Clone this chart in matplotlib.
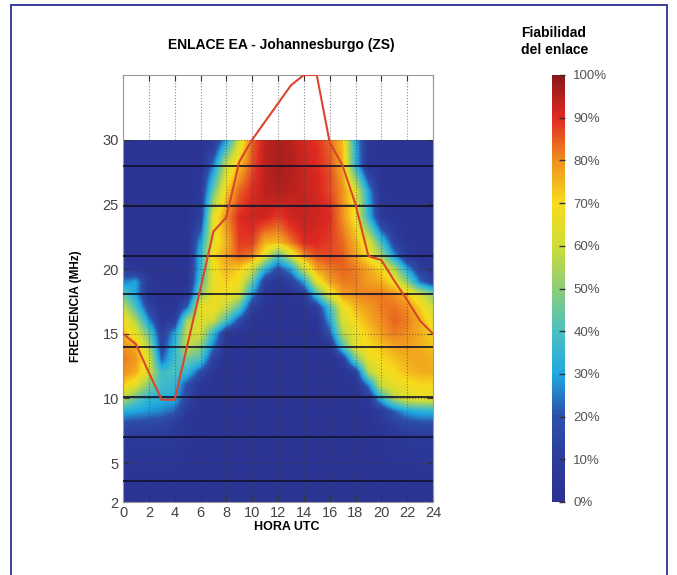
import numpy as np
import matplotlib
matplotlib.use("Agg")
import matplotlib.pyplot as plt
from matplotlib.colors import LinearSegmentedColormap
from matplotlib.patches import Rectangle

plt.rcParams['font.family'] = ['Liberation Sans', 'DejaVu Sans']

# Hour of day (UTC) and frequency rows (MHz) of the reliability table
hours = list(range(25))
freqs_mhz = list(range(2, 31))

# Link reliability (%) per frequency, one value per hour 0..24
rel_02 = [3, 3, 3, 3, 3, 3, 3, 3, 3, 3, 3, 3, 3, 3, 3, 3, 3, 3, 3, 3, 3, 3, 3, 3, 3]
rel_03 = [3, 3, 3, 3, 3, 3, 3, 3, 3, 3, 3, 3, 3, 3, 3, 3, 3, 3, 3, 3, 3, 3, 3, 3, 3]
rel_04 = [4, 4, 4, 4, 4, 3, 3, 3, 3, 3, 3, 3, 3, 3, 3, 3, 3, 3, 3, 3, 3, 3, 4, 4, 4]
rel_05 = [5, 5, 5, 5, 5, 4, 3, 3, 3, 3, 3, 3, 3, 3, 3, 3, 3, 3, 3, 3, 3, 4, 4, 5, 5]
rel_06 = [7, 7, 7, 7, 6, 4, 3, 3, 3, 3, 3, 3, 3, 3, 3, 3, 3, 3, 3, 3, 4, 5, 6, 7, 7]
rel_07 = [10, 10, 10, 9, 8, 5, 3, 3, 3, 3, 3, 3, 3, 3, 3, 3, 3, 3, 3, 3, 4, 6, 8, 9, 10]
rel_08 = [18, 17, 16, 15, 11, 5, 3, 3, 3, 3, 3, 3, 3, 3, 3, 3, 3, 3, 3, 3, 6, 12, 16, 18, 18]
rel_09 = [32, 30, 28, 26, 22, 8, 4, 3, 3, 3, 3, 3, 3, 3, 3, 3, 3, 3, 3, 4, 10, 22, 30, 33, 34]
rel_10 = [58, 44, 35, 33, 32, 15, 5, 3, 3, 3, 3, 3, 3, 3, 3, 3, 3, 3, 4, 8, 35, 55, 64, 66, 66]
rel_11 = [72, 64, 48, 38, 35, 18, 6, 3, 3, 3, 3, 3, 3, 3, 3, 3, 3, 3, 5, 25, 60, 66, 68, 70, 70]
rel_12 = [80, 76, 62, 38, 40, 35, 18, 5, 3, 3, 3, 3, 3, 3, 3, 3, 3, 4, 12, 55, 67, 70, 74, 76, 76]
rel_13 = [82, 79, 64, 22, 38, 45, 40, 12, 4, 3, 3, 3, 3, 3, 3, 3, 3, 10, 45, 66, 70, 73, 76, 77, 76]
rel_14 = [81, 76, 55, 15, 35, 60, 50, 25, 5, 3, 3, 3, 3, 3, 3, 3, 5, 40, 65, 70, 73, 77, 78, 76, 73]
rel_15 = [74, 66, 45, 12, 30, 60, 62, 35, 8, 4, 3, 3, 3, 3, 3, 3, 20, 55, 67, 72, 78, 82, 80, 76, 71]
rel_16 = [70, 55, 28, 6, 12, 55, 64, 60, 40, 18, 5, 3, 3, 3, 3, 5, 30, 62, 70, 76, 80, 84, 82, 76, 67]
rel_17 = [60, 40, 15, 4, 4, 25, 66, 68, 58, 42, 12, 4, 3, 3, 4, 12, 38, 66, 75, 78, 82, 83, 80, 72, 60]
rel_18 = [45, 30, 6, 3, 3, 8, 50, 66, 68, 62, 28, 8, 4, 5, 10, 38, 64, 78, 80, 82, 82, 80, 74, 62, 50]
rel_19 = [25, 30, 8, 3, 3, 4, 40, 66, 72, 68, 45, 12, 6, 12, 30, 65, 78, 82, 82, 78, 76, 68, 50, 24, 12]
rel_20 = [10, 6, 3, 3, 3, 4, 35, 68, 75, 72, 62, 35, 18, 30, 60, 78, 82, 84, 82, 77, 71, 56, 30, 12, 6]
rel_21 = [3, 3, 3, 3, 3, 4, 35, 70, 78, 85, 82, 65, 40, 62, 80, 86, 87, 85, 78, 68, 55, 28, 8, 4, 3]
rel_22 = [3, 3, 3, 3, 3, 3, 30, 66, 75, 88, 88, 76, 74, 82, 90, 90, 88, 84, 76, 65, 40, 15, 5, 3, 3]
rel_23 = [3, 3, 3, 3, 3, 3, 20, 66, 78, 89, 90, 84, 82, 88, 92, 91, 89, 82, 72, 50, 22, 8, 3, 3, 3]
rel_24 = [3, 3, 3, 3, 3, 3, 12, 65, 80, 90, 92, 92, 88, 92, 93, 92, 90, 80, 68, 35, 8, 4, 3, 3, 3]
rel_25 = [3, 3, 3, 3, 3, 3, 10, 55, 76, 87, 91, 93, 92, 93, 93, 92, 89, 80, 67, 33, 7, 3, 3, 3, 3]
rel_26 = [3, 3, 3, 3, 3, 3, 8, 45, 72, 84, 90, 94, 95, 94, 93, 91, 87, 80, 65, 30, 5, 3, 3, 3, 3]
rel_27 = [3, 3, 3, 3, 3, 3, 6, 35, 66, 79, 88, 94, 96, 95, 93, 91, 87, 78, 50, 18, 4, 3, 3, 3, 3]
rel_28 = [3, 3, 3, 3, 3, 3, 4, 25, 60, 74, 86, 94, 96, 95, 92, 90, 86, 76, 35, 6, 3, 3, 3, 3, 3]
rel_29 = [3, 3, 3, 3, 3, 3, 3, 15, 44, 68, 85, 94, 96, 95, 92, 90, 85, 75, 34, 6, 3, 3, 3, 3, 3]
rel_30 = [3, 3, 3, 3, 3, 3, 3, 8, 28, 62, 84, 93, 96, 94, 91, 89, 84, 74, 32, 5, 3, 3, 3, 3, 3]

reliability = np.array([rel_02, rel_03, rel_04, rel_05, rel_06, rel_07, rel_08, rel_09,
                        rel_10, rel_11, rel_12, rel_13, rel_14, rel_15, rel_16, rel_17,
                        rel_18, rel_19, rel_20, rel_21, rel_22, rel_23, rel_24, rel_25,
                        rel_26, rel_27, rel_28, rel_29, rel_30], dtype=float)

# Maximum usable frequency (MHz) per hour
muf_mhz = [15.0, 14.2, 12.0, 9.9, 9.9, 14.2, 18.5, 22.9, 24.0, 28.3, 30.0, 31.4, 32.8,
           34.2, 35.0, 35.0, 29.8, 28.0, 25.0, 21.0, 20.7, 19.1, 17.6, 16.0, 15.0]

# Amateur HF band frequencies (MHz)
band_freqs = [3.6, 7.0, 10.1, 14.0, 18.1, 21.0, 24.9, 28.0]

x_ticks = list(range(0, 25, 2))
y_ticks = [2, 5, 10, 15, 20, 25, 30]
cbar_ticks = list(range(0, 101, 10))

cmap = LinearSegmentedColormap.from_list("fiab", [
    (0.00, "#2b3190"), (0.10, "#2c3c9c"), (0.20, "#2d4fac"), (0.30, "#1fa8e0"),
    (0.40, "#4cc0c0"), (0.50, "#8ccd78"), (0.60, "#cfdc38"), (0.70, "#f7dc1c"),
    (0.80, "#f0901f"), (0.90, "#e02a22"), (1.00, "#8a1818")])

W, H = 677, 575
fig = plt.figure(figsize=(W / 100, H / 100), dpi=100)
ax = fig.add_axes([123 / W, 1 - 502 / H, 310 / W, 427 / H])
cax = fig.add_axes([552 / W, 1 - 502 / H, 13 / W, 427 / H])

dh = (hours[1] - hours[0]) / 2
df = (freqs_mhz[1] - freqs_mhz[0]) / 2
img = ax.imshow(reliability, origin='lower', aspect='auto', cmap=cmap, vmin=0, vmax=100,
                interpolation='bilinear', zorder=1,
                extent=(hours[0] - dh, hours[-1] + dh, freqs_mhz[0] - df, freqs_mhz[-1] + df))
img.set_clip_path(Rectangle((hours[0], freqs_mhz[0]), hours[-1] - hours[0],
                            freqs_mhz[-1] - freqs_mhz[0], transform=ax.transData))

ax.hlines(band_freqs, 0, 24, colors='#10102a', linewidth=1.2, zorder=3)
ax.plot(hours, muf_mhz, color='#d9462d', linewidth=1.5, zorder=4)

ax.set_xlim(0, 24)
ax.set_ylim(2, 35)
ax.set_xticks(x_ticks)
ax.set_yticks(y_ticks)
ax.grid(True, color='#444444', linestyle=':', linewidth=0.8, alpha=0.6)
ax.tick_params(direction='in', top=True, right=True, length=4, width=0.8,
               color='#333333', labelcolor='#444444', labelsize=10.5, pad=3)
for sp in ax.spines.values():
    sp.set_color('#9a9a9a')
    sp.set_linewidth(0.8)

cb = fig.colorbar(img, cax=cax, ticks=cbar_ticks)
cb.ax.set_yticklabels([f"{t}%" for t in cbar_ticks])
cb.outline.set_visible(False)
cb.ax.tick_params(direction='in', length=4, width=1, color='#333333',
                  labelcolor='#555555', labelsize=9.5, pad=6)

fig.text(281 / W, 1 - 45 / H, 'ENLACE EA - Johannesburgo (ZS)', ha='center', va='center',
         fontsize=10, fontweight='bold')
fig.text(287 / W, 1 - 527 / H, 'HORA UTC', ha='center', va='center',
         fontsize=9, fontweight='bold')
fig.text(76 / W, 1 - 306 / H, 'FRECUENCIA (MHz)', ha='center', va='center',
         rotation=90, fontsize=8.5, fontweight='bold')
fig.text(521 / W, 1 - 26 / H, 'Fiabilidad\ndel enlace', ha='left', va='top',
         fontsize=10, fontweight='bold', linespacing=1.3)

fig.patches.append(Rectangle((11 / W, -0.02), 656 / W, (570 / H) + 0.02,
                             transform=fig.transFigure, fill=False,
                             edgecolor='#3b3f9c', linewidth=1.4))

fig.savefig('out.png', dpi=100)
